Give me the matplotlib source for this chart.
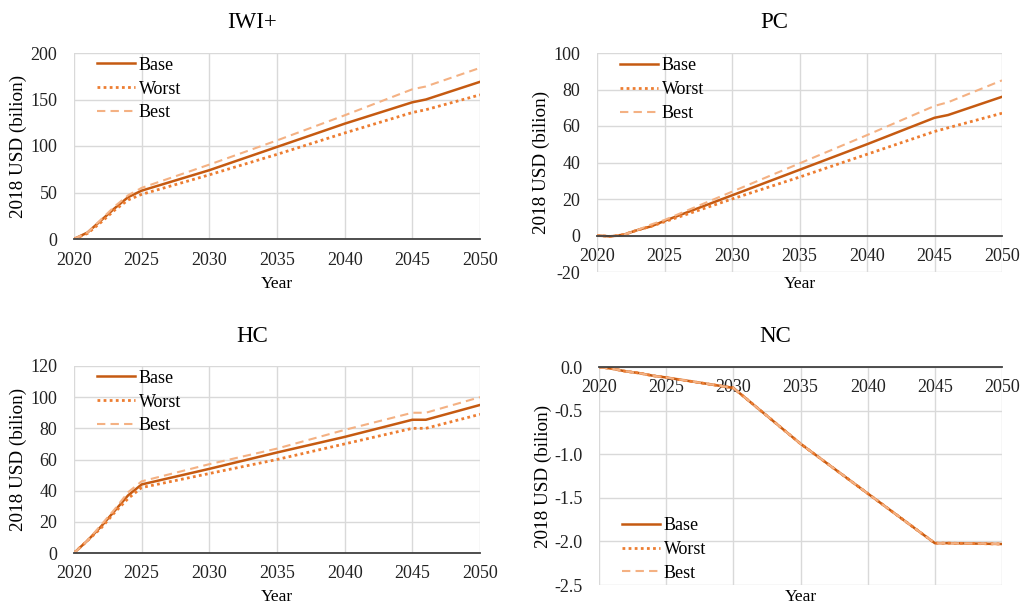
import matplotlib
matplotlib.use("Agg")
import matplotlib.pyplot as plt

plt.rcParams['font.family'] = ['Liberation Serif', 'DejaVu Serif']
plt.rcParams['axes.unicode_minus'] = False

W, H = 1022, 608

years = [2020, 2021, 2022, 2023, 2024, 2025, 2030, 2035, 2040, 2045, 2046, 2050]

iwi_base = [0, 7, 20, 33, 45, 52, 74, 99, 124, 147, 150, 169]
iwi_worst = [0, 6, 18, 31, 42, 48, 69, 91, 114, 136, 139, 155]
iwi_best = [0, 7, 21, 35, 47, 55, 80, 106, 133, 161, 164, 184]

pc_base = [0, -0.5, 0.5, 3, 5, 8, 22, 36, 50, 64.5, 66, 76]
pc_worst = [0, -0.5, 0.5, 3, 5, 7.5, 20, 32, 44.5, 57, 59, 67]
pc_best = [0, -0.5, 0.5, 3, 6, 8.5, 24, 39.5, 55, 71, 73, 85]

hc_base = [0, 8, 17, 27, 37, 44, 54, 64.5, 74.5, 85.5, 85.5, 95]
hc_worst = [0, 8, 16, 26, 35, 42, 51, 60, 70, 80, 80, 89]
hc_best = [0, 8, 18, 28, 39, 46, 57, 67, 79, 90, 90, 100]

# natural capital: the three scenarios coincide
nc_base = [0, -0.02, -0.05, -0.07, -0.10, -0.12, -0.24, -0.88, -1.45, -2.02, -2.02, -2.03]
nc_worst = list(nc_base)
nc_best = list(nc_base)

scenarios = ['Base', 'Worst', 'Best']
colors = {'Base': '#C55A11', 'Worst': '#ED7D31', 'Best': '#F4B183'}
styles = {'Base': '-', 'Worst': (0, (1, 1.2)), 'Best': (0, (4, 2.5))}
widths = {'Base': 1.8, 'Worst': 2.0, 'Best': 1.5}


def rect(left, top, right, bottom):
    return [left / W, 1 - bottom / H, (right - left) / W, (bottom - top) / H]


def draw_panel(box, series, ylim, yticks, yfmt, title, title_x, title_y,
               year_y, legend_loc, legend_anchor):
    ax = fig.add_axes(rect(*box))
    for name, vals in zip(scenarios, series):
        ax.plot(years, vals, color=colors[name], linestyle=styles[name],
                lw=widths[name], label=name, zorder=3)
    ax.set_xlim(2020, 2050)
    ax.set_ylim(*ylim)
    ax.set_xticks(range(2020, 2051, 5))
    ax.set_yticks(yticks)
    ax.set_yticklabels([yfmt % v for v in yticks])
    ax.grid(True, color='#D9D9D9', lw=1.0, zorder=0)
    for s in ['top', 'right', 'left']:
        ax.spines[s].set_visible(False)
    ax.spines['bottom'].set_position(('data', 0))
    ax.spines['bottom'].set_color('#404040')
    ax.spines['bottom'].set_linewidth(1.3)
    ax.spines['bottom'].set_zorder(4)
    ax.tick_params(axis='both', length=0, labelsize=13, colors='#222222')
    ax.tick_params(axis='x', pad=9)
    ax.tick_params(axis='y', pad=12)
    width_px = box[2] - box[0]
    ax.set_ylabel('2018 USD (bilion)', fontsize=13.8)
    ax.yaxis.set_label_coords(-47 / width_px, 0.5)
    fig.text(title_x / W, 1 - title_y / H, title, fontsize=16.5,
             ha='center', va='center')
    fig.text((box[0] + box[2]) / 2 / W, 1 - year_y / H, 'Year', fontsize=12.5,
             ha='center', va='center')
    ax.legend(loc=legend_loc, bbox_to_anchor=legend_anchor, frameon=False,
              fontsize=13, handlelength=2.1, handletextpad=0.2,
              labelspacing=0.38, borderpad=0, borderaxespad=0)
    return ax


fig = plt.figure(figsize=(W / 100, H / 100), dpi=100)

draw_panel((74, 53, 480, 239), [iwi_base, iwi_worst, iwi_best],
           (0, 200), [0, 50, 100, 150, 200], '%d', 'IWI+', 252, 22, 284,
           'upper left', (23 / 406, 0.98))
draw_panel((597, 53, 1002, 272), [pc_base, pc_worst, pc_best],
           (-20, 100), [-20, 0, 20, 40, 60, 80, 100], '%d', 'PC', 774, 22, 284,
           'upper left', (23 / 405, 0.98))
draw_panel((74, 366, 480, 553), [hc_base, hc_worst, hc_best],
           (0, 120), [0, 20, 40, 60, 80, 100, 120], '%d', 'HC', 252, 336, 597,
           'upper left', (23 / 406, 0.98))
draw_panel((599, 367, 1002, 585), [nc_base, nc_worst, nc_best],
           (-2.5, 0), [-2.5, -2.0, -1.5, -1.0, -0.5, 0.0], '%.1f', 'NC', 775, 336, 597,
           'lower left', (23 / 403, 0.015))

fig.savefig('out.png', dpi=100)
